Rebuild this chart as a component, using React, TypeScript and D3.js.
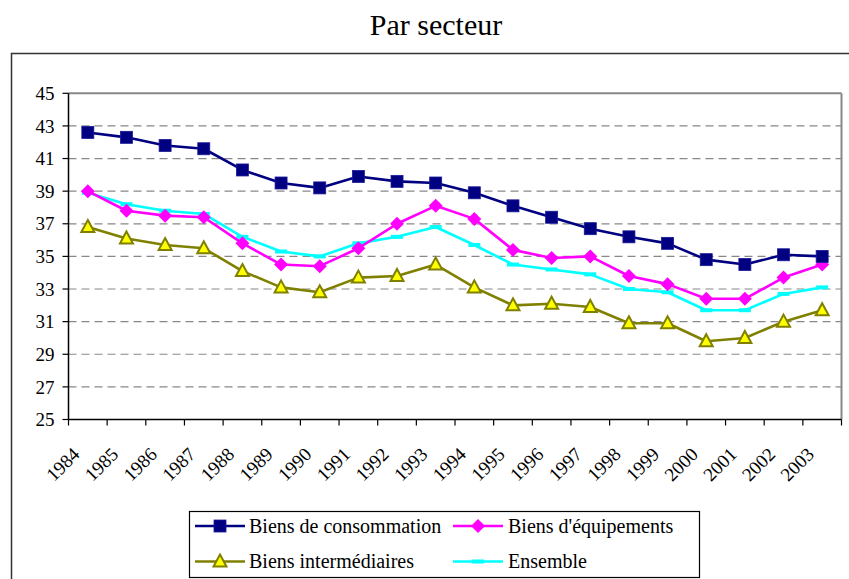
import React from "react";
import * as d3 from "d3";

const years = ["1984","1985","1986","1987","1988","1989","1990","1991","1992","1993","1994","1995","1996","1997","1998","1999","2000","2001","2002","2003"];
const consommation = [42.6,42.3,41.8,41.6,40.3,39.5,39.2,39.9,39.6,39.5,38.9,38.1,37.4,36.7,36.2,35.8,34.8,34.5,35.1,35.0];
const equipements = [39.0,37.8,37.5,37.4,35.8,34.5,34.4,35.5,37.0,38.1,37.3,35.4,34.9,35.0,33.8,33.3,32.4,32.4,33.7,34.5];
const intermediaires = [36.8,36.1,35.7,35.5,34.1,33.1,32.8,33.7,33.8,34.5,33.1,32.0,32.1,31.9,30.9,30.9,29.8,30.0,31.0,31.7];
const ensemble = [38.9,38.2,37.8,37.6,36.2,35.3,35.0,35.8,36.2,36.8,35.7,34.5,34.2,33.9,33.0,32.8,31.7,31.7,32.7,33.1];
const yTicks = [25,27,29,31,33,35,37,39,41,43,45];

const FONT = '"Liberation Serif", "Times New Roman", "DejaVu Serif", serif';

const W = 849, H = 579;
const L = 68.5, R = 841.5, T = 93.3, B = 419.5;

function Marker({ kind, x, y }: { kind: string; x: number; y: number }) {
  if (kind === "square") {
    return <rect x={x - 6} y={y - 6} width={12} height={12} fill="#000080" stroke="#1a1a9a" strokeWidth={0.8} />;
  }
  if (kind === "diamond") {
    return <path d={`M${x},${y - 7}L${x + 7},${y}L${x},${y + 7}L${x - 7},${y}Z`} fill="#FF00FF" />;
  }
  if (kind === "triangle") {
    return <path d={`M${x},${y - 7}L${x + 6.5},${y + 5}L${x - 6.5},${y + 5}Z`} fill="#FFFF00" stroke="#808000" strokeWidth={2} strokeLinejoin="miter" />;
  }
  return <rect x={x - 6} y={y - 2} width={12} height={4} fill="#00FFFF" />;
}

const series = [
  { name: "Biens de consommation", values: consommation, color: "#000080", kind: "square" },
  { name: "Biens d'équipements", values: equipements, color: "#FF00FF", kind: "diamond" },
  { name: "Biens intermédiaires", values: intermediaires, color: "#808000", kind: "triangle" },
  { name: "Ensemble", values: ensemble, color: "#00FFFF", kind: "dash" },
];

const txt = { fontFamily: FONT };

export default function App() {
  const x = d3.scaleBand<string>().domain(years).range([L, R]).padding(0);
  const y = d3.scaleLinear().domain([25, 45]).range([B, T]);
  const cx = (yr: string) => (x(yr) as number) + x.bandwidth() / 2;
  const line = d3.line<number>().x((_, i) => cx(years[i])).y((v) => y(v));
  const drawOrder = [3, 2, 1, 0];

  const legendItems = [
    { s: series[0], lx: 195, tx: 249, ly: 526 },
    { s: series[1], lx: 453, tx: 508, ly: 526 },
    { s: series[2], lx: 195, tx: 249, ly: 561.5 },
    { s: series[3], lx: 453, tx: 508, ly: 561.5 },
  ];

  return (
    <svg width={W} height={H} style={{ position: "absolute", left: 0, top: 0, background: "#fff", fontFamily: FONT }}>
      <rect x={0} y={0} width={W} height={H} fill="#fff" />
      <text x={436} y={35} textAnchor="middle" fontSize={30} fill="#000" style={txt}>Par secteur</text>
      <rect x={11.5} y={53.5} width={880} height={600} fill="none" stroke="#333" strokeWidth={1.5} />

      {yTicks.filter((t) => t !== 25 && t !== 45).map((t) => (
        <line key={t} x1={L} x2={R} y1={y(t)} y2={y(t)} stroke="#888" strokeWidth={1.2} strokeDasharray="8,5" />
      ))}
      <line x1={L} x2={R} y1={T} y2={T} stroke="#888" strokeWidth={2} />
      <line x1={R} x2={R} y1={T} y2={B} stroke="#888" strokeWidth={2} />
      <line x1={L} x2={L} y1={T} y2={B} stroke="#000" strokeWidth={1.5} />
      <line x1={L} x2={R} y1={B} y2={B} stroke="#000" strokeWidth={1.5} />

      {yTicks.map((t) => (
        <g key={t}>
          <line x1={L - 6} x2={L} y1={y(t)} y2={y(t)} stroke="#000" strokeWidth={1.2} />
          <text x={L - 14} y={y(t)} dy="0.35em" textAnchor="end" fontSize={19} fill="#000" style={txt}>{t}</text>
        </g>
      ))}
      {years.map((yr) => (
        <line key={"t" + yr} x1={x(yr) as number} x2={x(yr) as number} y1={B} y2={B + 6} stroke="#000" strokeWidth={1.2} />
      ))}
      <line x1={R} x2={R} y1={B} y2={B + 6} stroke="#000" strokeWidth={1.2} />
      {years.map((yr) => (
        <text key={"l" + yr} transform={`translate(${cx(yr) - 7},${B + 36}) rotate(-45)`} textAnchor="end" fontSize={19} fill="#000" style={txt}>{yr}</text>
      ))}

      {drawOrder.map((k) => {
        const s = series[k];
        return (
          <g key={s.name}>
            <path d={line(s.values) as string} fill="none" stroke={s.color} strokeWidth={2.6} strokeLinejoin="round" />
            {s.values.map((v, i) => (
              <Marker key={i} kind={s.kind} x={cx(years[i])} y={y(v)} />
            ))}
          </g>
        );
      })}

      <rect x={189.5} y={511.5} width={510} height={66} fill="#fff" stroke="#000" strokeWidth={1.2} />
      {legendItems.map(({ s, lx, tx, ly }) => (
        <g key={"lg" + s.name}>
          <line x1={lx} x2={lx + 50} y1={ly} y2={ly} stroke={s.color} strokeWidth={2.6} />
          <Marker kind={s.kind} x={lx + 25} y={ly} />
          <text x={tx} y={ly} dy="0.33em" fontSize={20} fill="#000" style={txt}>{s.name}</text>
        </g>
      ))}
    </svg>
  );
}
